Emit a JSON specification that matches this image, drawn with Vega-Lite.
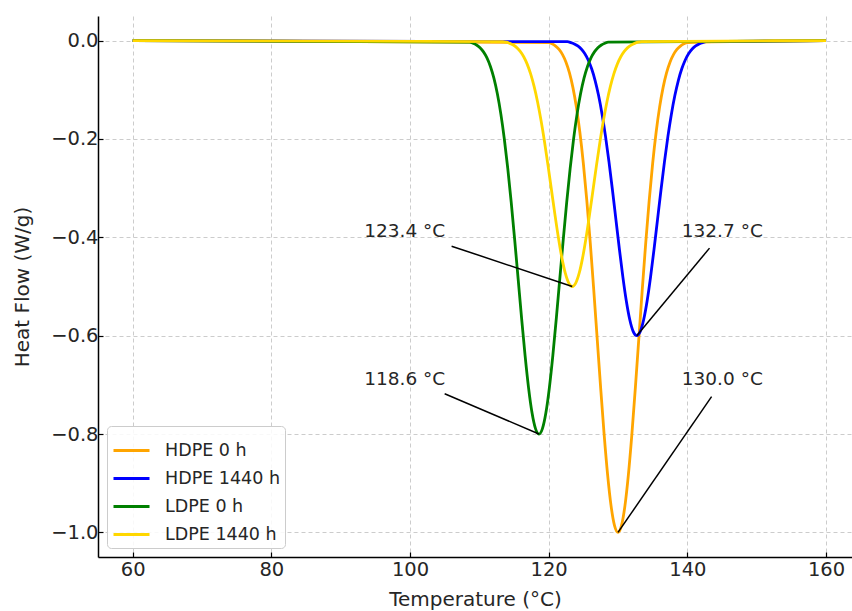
{
  "$schema": "https://vega.github.io/schema/vega-lite/v6.json",
  "width": 754,
  "height": 541,
  "autosize": {"type": "none"},
  "padding": {"left": 98, "top": 16, "right": 0, "bottom": 54},
  "background": "white",
  "config": {
    "view": {"stroke": null},
    "font": "DejaVu Sans",
    "axis": {
      "grid": true,
      "gridDash": [4, 3],
      "gridColor": "#cccccc",
      "gridWidth": 1,
      "domainColor": "#000000",
      "domainWidth": 1.5,
      "tickColor": "#000000",
      "tickSize": -5,
      "tickWidth": 1.2,
      "labelFont": "DejaVu Sans",
      "labelFontSize": 19.5,
      "labelColor": "#262626",
      "titleFont": "DejaVu Sans",
      "titleFontSize": 20,
      "titleFontWeight": "normal",
      "titleColor": "#262626"
    },
    "legend": {
      "labelFont": "DejaVu Sans",
      "labelFontSize": 17.5,
      "labelColor": "#262626"
    }
  },
  "datasets": {
    "curves": [
      {"s": "HDPE 0 h", "t": 60, "h": 0},
      {"s": "HDPE 0 h", "t": 120, "h": -0.0039},
      {"s": "HDPE 0 h", "t": 120.5, "h": -0.0066},
      {"s": "HDPE 0 h", "t": 121, "h": -0.0111},
      {"s": "HDPE 0 h", "t": 121.5, "h": -0.0181},
      {"s": "HDPE 0 h", "t": 122, "h": -0.0286},
      {"s": "HDPE 0 h", "t": 122.5, "h": -0.0439},
      {"s": "HDPE 0 h", "t": 123, "h": -0.0657},
      {"s": "HDPE 0 h", "t": 123.5, "h": -0.0956},
      {"s": "HDPE 0 h", "t": 124, "h": -0.1353},
      {"s": "HDPE 0 h", "t": 124.5, "h": -0.1863},
      {"s": "HDPE 0 h", "t": 125, "h": -0.2494},
      {"s": "HDPE 0 h", "t": 125.5, "h": -0.3247},
      {"s": "HDPE 0 h", "t": 126, "h": -0.4111},
      {"s": "HDPE 0 h", "t": 126.5, "h": -0.5063},
      {"s": "HDPE 0 h", "t": 127, "h": -0.6065},
      {"s": "HDPE 0 h", "t": 127.5, "h": -0.7067},
      {"s": "HDPE 0 h", "t": 128, "h": -0.8007},
      {"s": "HDPE 0 h", "t": 128.5, "h": -0.8825},
      {"s": "HDPE 0 h", "t": 129, "h": -0.946},
      {"s": "HDPE 0 h", "t": 129.5, "h": -0.9862},
      {"s": "HDPE 0 h", "t": 130, "h": -1},
      {"s": "HDPE 0 h", "t": 130.5, "h": -0.9862},
      {"s": "HDPE 0 h", "t": 131, "h": -0.946},
      {"s": "HDPE 0 h", "t": 131.5, "h": -0.8825},
      {"s": "HDPE 0 h", "t": 132, "h": -0.8007},
      {"s": "HDPE 0 h", "t": 132.5, "h": -0.7067},
      {"s": "HDPE 0 h", "t": 133, "h": -0.6065},
      {"s": "HDPE 0 h", "t": 133.5, "h": -0.5063},
      {"s": "HDPE 0 h", "t": 134, "h": -0.4111},
      {"s": "HDPE 0 h", "t": 134.5, "h": -0.3247},
      {"s": "HDPE 0 h", "t": 135, "h": -0.2494},
      {"s": "HDPE 0 h", "t": 135.5, "h": -0.1863},
      {"s": "HDPE 0 h", "t": 136, "h": -0.1353},
      {"s": "HDPE 0 h", "t": 136.5, "h": -0.0956},
      {"s": "HDPE 0 h", "t": 137, "h": -0.0657},
      {"s": "HDPE 0 h", "t": 137.5, "h": -0.0439},
      {"s": "HDPE 0 h", "t": 138, "h": -0.0286},
      {"s": "HDPE 0 h", "t": 138.5, "h": -0.0181},
      {"s": "HDPE 0 h", "t": 139, "h": -0.0111},
      {"s": "HDPE 0 h", "t": 139.5, "h": -0.0066},
      {"s": "HDPE 0 h", "t": 140, "h": -0.0039},
      {"s": "HDPE 0 h", "t": 160, "h": 0},

      {"s": "HDPE 1440 h", "t": 60, "h": 0},
      {"s": "HDPE 1440 h", "t": 122.7, "h": -0.0023},
      {"s": "HDPE 1440 h", "t": 123.2, "h": -0.004},
      {"s": "HDPE 1440 h", "t": 123.7, "h": -0.0067},
      {"s": "HDPE 1440 h", "t": 124.2, "h": -0.0109},
      {"s": "HDPE 1440 h", "t": 124.7, "h": -0.0172},
      {"s": "HDPE 1440 h", "t": 125.2, "h": -0.0263},
      {"s": "HDPE 1440 h", "t": 125.7, "h": -0.0394},
      {"s": "HDPE 1440 h", "t": 126.2, "h": -0.0574},
      {"s": "HDPE 1440 h", "t": 126.7, "h": -0.0812},
      {"s": "HDPE 1440 h", "t": 127.2, "h": -0.1118},
      {"s": "HDPE 1440 h", "t": 127.7, "h": -0.1496},
      {"s": "HDPE 1440 h", "t": 128.2, "h": -0.1948},
      {"s": "HDPE 1440 h", "t": 128.7, "h": -0.2467},
      {"s": "HDPE 1440 h", "t": 129.2, "h": -0.3038},
      {"s": "HDPE 1440 h", "t": 129.7, "h": -0.3639},
      {"s": "HDPE 1440 h", "t": 130.2, "h": -0.424},
      {"s": "HDPE 1440 h", "t": 130.7, "h": -0.4804},
      {"s": "HDPE 1440 h", "t": 131.2, "h": -0.5295},
      {"s": "HDPE 1440 h", "t": 131.7, "h": -0.5676},
      {"s": "HDPE 1440 h", "t": 132.2, "h": -0.5917},
      {"s": "HDPE 1440 h", "t": 132.7, "h": -0.6},
      {"s": "HDPE 1440 h", "t": 133.2, "h": -0.5917},
      {"s": "HDPE 1440 h", "t": 133.7, "h": -0.5676},
      {"s": "HDPE 1440 h", "t": 134.2, "h": -0.5295},
      {"s": "HDPE 1440 h", "t": 134.7, "h": -0.4804},
      {"s": "HDPE 1440 h", "t": 135.2, "h": -0.424},
      {"s": "HDPE 1440 h", "t": 135.7, "h": -0.3639},
      {"s": "HDPE 1440 h", "t": 136.2, "h": -0.3038},
      {"s": "HDPE 1440 h", "t": 136.7, "h": -0.2467},
      {"s": "HDPE 1440 h", "t": 137.2, "h": -0.1948},
      {"s": "HDPE 1440 h", "t": 137.7, "h": -0.1496},
      {"s": "HDPE 1440 h", "t": 138.2, "h": -0.1118},
      {"s": "HDPE 1440 h", "t": 138.7, "h": -0.0812},
      {"s": "HDPE 1440 h", "t": 139.2, "h": -0.0574},
      {"s": "HDPE 1440 h", "t": 139.7, "h": -0.0394},
      {"s": "HDPE 1440 h", "t": 140.2, "h": -0.0263},
      {"s": "HDPE 1440 h", "t": 140.7, "h": -0.0172},
      {"s": "HDPE 1440 h", "t": 141.2, "h": -0.0109},
      {"s": "HDPE 1440 h", "t": 141.7, "h": -0.0067},
      {"s": "HDPE 1440 h", "t": 142.2, "h": -0.004},
      {"s": "HDPE 1440 h", "t": 142.7, "h": -0.0023},
      {"s": "HDPE 1440 h", "t": 160, "h": 0},

      {"s": "LDPE 0 h", "t": 60, "h": 0},
      {"s": "LDPE 0 h", "t": 108.6, "h": -0.0031},
      {"s": "LDPE 0 h", "t": 109.1, "h": -0.0053},
      {"s": "LDPE 0 h", "t": 109.6, "h": -0.0089},
      {"s": "LDPE 0 h", "t": 110.1, "h": -0.0145},
      {"s": "LDPE 0 h", "t": 110.6, "h": -0.0229},
      {"s": "LDPE 0 h", "t": 111.1, "h": -0.0351},
      {"s": "LDPE 0 h", "t": 111.6, "h": -0.0526},
      {"s": "LDPE 0 h", "t": 112.1, "h": -0.0765},
      {"s": "LDPE 0 h", "t": 112.6, "h": -0.1082},
      {"s": "LDPE 0 h", "t": 113.1, "h": -0.149},
      {"s": "LDPE 0 h", "t": 113.6, "h": -0.1995},
      {"s": "LDPE 0 h", "t": 114.1, "h": -0.2598},
      {"s": "LDPE 0 h", "t": 114.6, "h": -0.3289},
      {"s": "LDPE 0 h", "t": 115.1, "h": -0.405},
      {"s": "LDPE 0 h", "t": 115.6, "h": -0.4852},
      {"s": "LDPE 0 h", "t": 116.1, "h": -0.5654},
      {"s": "LDPE 0 h", "t": 116.6, "h": -0.6406},
      {"s": "LDPE 0 h", "t": 117.1, "h": -0.706},
      {"s": "LDPE 0 h", "t": 117.6, "h": -0.7568},
      {"s": "LDPE 0 h", "t": 118.1, "h": -0.789},
      {"s": "LDPE 0 h", "t": 118.6, "h": -0.8},
      {"s": "LDPE 0 h", "t": 119.1, "h": -0.789},
      {"s": "LDPE 0 h", "t": 119.6, "h": -0.7568},
      {"s": "LDPE 0 h", "t": 120.1, "h": -0.706},
      {"s": "LDPE 0 h", "t": 120.6, "h": -0.6406},
      {"s": "LDPE 0 h", "t": 121.1, "h": -0.5654},
      {"s": "LDPE 0 h", "t": 121.6, "h": -0.4852},
      {"s": "LDPE 0 h", "t": 122.1, "h": -0.405},
      {"s": "LDPE 0 h", "t": 122.6, "h": -0.3289},
      {"s": "LDPE 0 h", "t": 123.1, "h": -0.2598},
      {"s": "LDPE 0 h", "t": 123.6, "h": -0.1995},
      {"s": "LDPE 0 h", "t": 124.1, "h": -0.149},
      {"s": "LDPE 0 h", "t": 124.6, "h": -0.1082},
      {"s": "LDPE 0 h", "t": 125.1, "h": -0.0765},
      {"s": "LDPE 0 h", "t": 125.6, "h": -0.0526},
      {"s": "LDPE 0 h", "t": 126.1, "h": -0.0351},
      {"s": "LDPE 0 h", "t": 126.6, "h": -0.0229},
      {"s": "LDPE 0 h", "t": 127.1, "h": -0.0145},
      {"s": "LDPE 0 h", "t": 127.6, "h": -0.0089},
      {"s": "LDPE 0 h", "t": 128.1, "h": -0.0053},
      {"s": "LDPE 0 h", "t": 128.6, "h": -0.0031},
      {"s": "LDPE 0 h", "t": 160, "h": 0},

      {"s": "LDPE 1440 h", "t": 60, "h": 0},
      {"s": "LDPE 1440 h", "t": 113.4, "h": -0.002},
      {"s": "LDPE 1440 h", "t": 113.9, "h": -0.0033},
      {"s": "LDPE 1440 h", "t": 114.4, "h": -0.0056},
      {"s": "LDPE 1440 h", "t": 114.9, "h": -0.0091},
      {"s": "LDPE 1440 h", "t": 115.4, "h": -0.0143},
      {"s": "LDPE 1440 h", "t": 115.9, "h": -0.022},
      {"s": "LDPE 1440 h", "t": 116.4, "h": -0.0329},
      {"s": "LDPE 1440 h", "t": 116.9, "h": -0.0478},
      {"s": "LDPE 1440 h", "t": 117.4, "h": -0.0677},
      {"s": "LDPE 1440 h", "t": 117.9, "h": -0.0932},
      {"s": "LDPE 1440 h", "t": 118.4, "h": -0.1247},
      {"s": "LDPE 1440 h", "t": 118.9, "h": -0.1624},
      {"s": "LDPE 1440 h", "t": 119.4, "h": -0.2056},
      {"s": "LDPE 1440 h", "t": 119.9, "h": -0.2532},
      {"s": "LDPE 1440 h", "t": 120.4, "h": -0.3033},
      {"s": "LDPE 1440 h", "t": 120.9, "h": -0.3534},
      {"s": "LDPE 1440 h", "t": 121.4, "h": -0.4004},
      {"s": "LDPE 1440 h", "t": 121.9, "h": -0.4413},
      {"s": "LDPE 1440 h", "t": 122.4, "h": -0.473},
      {"s": "LDPE 1440 h", "t": 122.9, "h": -0.4931},
      {"s": "LDPE 1440 h", "t": 123.4, "h": -0.5},
      {"s": "LDPE 1440 h", "t": 123.9, "h": -0.4931},
      {"s": "LDPE 1440 h", "t": 124.4, "h": -0.473},
      {"s": "LDPE 1440 h", "t": 124.9, "h": -0.4413},
      {"s": "LDPE 1440 h", "t": 125.4, "h": -0.4004},
      {"s": "LDPE 1440 h", "t": 125.9, "h": -0.3534},
      {"s": "LDPE 1440 h", "t": 126.4, "h": -0.3033},
      {"s": "LDPE 1440 h", "t": 126.9, "h": -0.2532},
      {"s": "LDPE 1440 h", "t": 127.4, "h": -0.2056},
      {"s": "LDPE 1440 h", "t": 127.9, "h": -0.1624},
      {"s": "LDPE 1440 h", "t": 128.4, "h": -0.1247},
      {"s": "LDPE 1440 h", "t": 128.9, "h": -0.0932},
      {"s": "LDPE 1440 h", "t": 129.4, "h": -0.0677},
      {"s": "LDPE 1440 h", "t": 129.9, "h": -0.0478},
      {"s": "LDPE 1440 h", "t": 130.4, "h": -0.0329},
      {"s": "LDPE 1440 h", "t": 130.9, "h": -0.022},
      {"s": "LDPE 1440 h", "t": 131.4, "h": -0.0143},
      {"s": "LDPE 1440 h", "t": 131.9, "h": -0.0091},
      {"s": "LDPE 1440 h", "t": 132.4, "h": -0.0056},
      {"s": "LDPE 1440 h", "t": 132.9, "h": -0.0033},
      {"s": "LDPE 1440 h", "t": 133.4, "h": -0.002},
      {"s": "LDPE 1440 h", "t": 160, "h": 0}
    ],
    "notes": [
      {"label": "123.4 °C", "tx": 93.4, "ty": -0.4, "x1": 106.0, "y1": -0.418, "px": 123.4, "py": -0.5},
      {"label": "132.7 °C", "tx": 139.2, "ty": -0.4, "x1": 143.2, "y1": -0.422, "px": 132.7, "py": -0.6},
      {"label": "118.6 °C", "tx": 93.4, "ty": -0.7, "x1": 105.0, "y1": -0.718, "px": 118.6, "py": -0.8},
      {"label": "130.0 °C", "tx": 139.2, "ty": -0.7, "x1": 143.5, "y1": -0.724, "px": 130.0, "py": -1.0}
    ]
  },
  "layer": [
    {
      "data": {"name": "curves"},
      "mark": {"type": "line", "strokeWidth": 2.8, "interpolate": "monotone"},
      "encoding": {
        "x": {
          "field": "t", "type": "quantitative",
          "scale": {"domain": [55, 163.75], "nice": false, "zero": false},
          "axis": {"values": [60, 80, 100, 120, 140, 160], "format": "d", "title": "Temperature (°C)", "labelPadding": 8, "titlePadding": 11}
        },
        "y": {
          "field": "h", "type": "quantitative",
          "scale": {"domain": [-1.05, 0.05], "nice": false, "zero": false},
          "axis": {"values": [-1, -0.8, -0.6, -0.4, -0.2, 0], "format": ".1f", "title": "Heat Flow (W/g)", "labelPadding": 5, "titlePadding": 18}
        },
        "color": {
          "field": "s", "type": "nominal",
          "scale": {"domain": ["HDPE 0 h", "HDPE 1440 h", "LDPE 0 h", "LDPE 1440 h"], "range": ["#FFA500", "#0000FF", "#008000", "#FFD700"]},
          "legend": {
            "title": null,
            "orient": "bottom-left",
            "offset": 9,
            "padding": 5,
            "rowPadding": -13.5,
            "cornerRadius": 4,
            "strokeColor": "#cccccc",
            "fillColor": "rgba(255,255,255,0.85)",
            "symbolType": "stroke",
            "symbolSize": 1296,
            "symbolStrokeWidth": 2.8,
            "labelOffset": 14
          }
        }
      }
    },
    {
      "data": {"name": "notes"},
      "mark": {"type": "rule", "color": "#000000", "strokeWidth": 1.5},
      "encoding": {
        "x": {"field": "x1", "type": "quantitative"},
        "y": {"field": "y1", "type": "quantitative"},
        "x2": {"field": "px"},
        "y2": {"field": "py"}
      }
    },
    {
      "data": {"name": "notes"},
      "mark": {"type": "text", "align": "left", "baseline": "alphabetic", "fontSize": 18.5, "font": "DejaVu Sans", "color": "#262626"},
      "encoding": {
        "x": {"field": "tx", "type": "quantitative"},
        "y": {"field": "ty", "type": "quantitative"},
        "text": {"field": "label"}
      }
    }
  ]
}
